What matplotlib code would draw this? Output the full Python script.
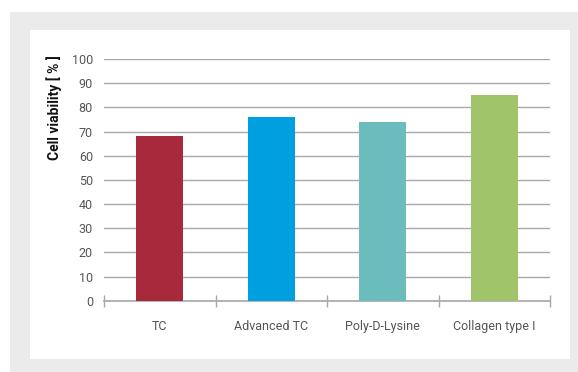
import matplotlib
matplotlib.use("Agg")
from matplotlib import pyplot as plt
from matplotlib.patches import Rectangle
import numpy as np

# data
categories = ["TC", "Advanced TC", "Poly-D-Lysine", "Collagen type I"]
viability = [68, 76, 74, 85]
colors = ["#a8293b", "#009fe0", "#6bbcbc", "#a0c46a"]
yticks = [0, 10, 20, 30, 40, 50, 60, 70, 80, 90, 100]

plt.rcParams['font.family'] = ['Roboto', 'DejaVu Sans']

W, H = 578, 372
fig = plt.figure(figsize=(W / 100, H / 100), dpi=100)
fig.patch.set_facecolor("white")

# grey frame and white card behind the chart
fig.patches.append(Rectangle((10 / W, 0), 1 - 10 / W, (H - 12) / H,
                             transform=fig.transFigure, facecolor="#ebebeb",
                             edgecolor="none", zorder=-2))
fig.patches.append(Rectangle((30 / W, (H - 359) / H), 540 / W, 329 / H,
                             transform=fig.transFigure, facecolor="white",
                             edgecolor="none", zorder=-1))

ax = fig.add_axes([104 / W, (H - 300.7) / H, 446 / W, 241.7 / H])
ax.patch.set_alpha(0)

x = np.arange(len(categories))
ax.bar(x, viability, width=0.42, color=colors, zorder=3)

ax.set_xlim(-0.5, len(categories) - 0.5)
ax.set_ylim(0, 100)
ax.set_yticks(yticks)
ax.set_yticklabels([str(v) for v in yticks], fontsize=9, color="#555555")
ax.tick_params(axis="y", length=0, pad=8)

ax.set_xticks(x)
ax.set_xticklabels(categories, fontsize=9, color="#555555")
ax.tick_params(axis="x", which="major", length=0, pad=14)
ax.set_xticks(np.arange(-0.5, len(categories)), minor=True)
ax.tick_params(axis="x", which="minor", direction="inout", length=8,
               width=1, color="#a8a8a8")

ax.yaxis.grid(True, color="#a8a8a8", linewidth=1)
ax.set_axisbelow(True)
for s in ["top", "right", "left"]:
    ax.spines[s].set_visible(False)
ax.spines["bottom"].set_color("#a8a8a8")
ax.spines["bottom"].set_linewidth(1.2)

fig.text(54 / W, 1 - 108 / H, "Cell viability [ % ]", rotation=90,
         ha="center", va="center", fontsize=10, fontweight=600,
         color="#111111")

fig.savefig("out.png", dpi=100)
